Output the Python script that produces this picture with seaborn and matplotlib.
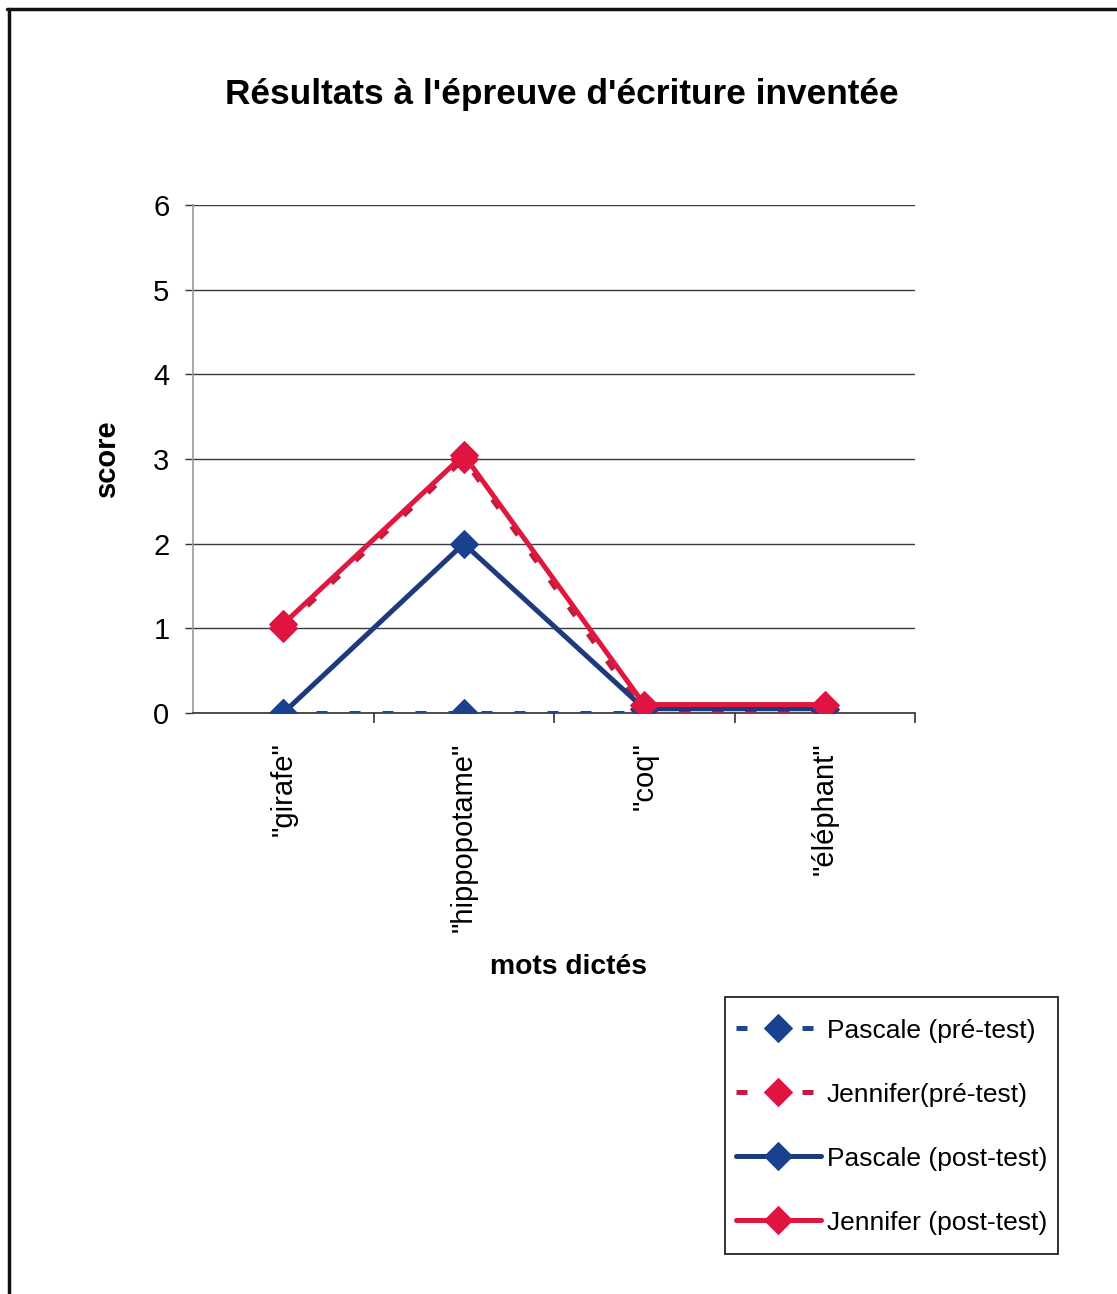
import numpy as np
import pandas as pd
import matplotlib
matplotlib.use("Agg")
import matplotlib.pyplot as plt
from matplotlib.lines import Line2D
from matplotlib.legend_handler import HandlerLine2D
from matplotlib.ticker import FixedLocator
import seaborn as sns

# Words dictated in the invented-spelling test
mots = ['"girafe"', '"hippopotame"', '"coq"', '"éléphant"']

# Scores per child and per session
pascale_pre = [0, 0, 0, 0]
jennifer_pre = [1, 3, 0, 0]
pascale_post = [0, 2, 0.05, 0.05]
jennifer_post = [1.05, 3.05, 0.1, 0.1]

series_labels = ["Pascale (pré-test)", "Jennifer(pré-test)",
                 "Pascale (post-test)", "Jennifer (post-test)"]
y_ticks = [0, 1, 2, 3, 4, 5, 6]


class CenteredLineHandler(HandlerLine2D):
    """Legend line handler that centres the sample on the label text."""

    def __init__(self, drop=0.38, **kwargs):
        super().__init__(**kwargs)
        self._drop = drop

    def create_artists(self, legend, orig_handle, xdescent, ydescent, width,
                       height, fontsize, trans):
        return super().create_artists(legend, orig_handle, xdescent, ydescent,
                                      width, height - self._drop * fontsize,
                                      fontsize, trans)


sns.set_theme(style="white")
plt.rcParams["font.family"] = ["Liberation Sans", "DejaVu Sans"]
plt.rcParams["text.color"] = "black"
plt.rcParams["axes.labelcolor"] = "black"
plt.rcParams["xtick.color"] = "black"
plt.rcParams["ytick.color"] = "black"

fig = plt.figure(figsize=(11.17, 12.94), dpi=100)
fig.patch.set_facecolor("white")
ax = fig.add_axes([193 / 1117, 1 - 713 / 1294, 722 / 1117, 508 / 1294])

x = np.arange(len(mots))
styles = [
    dict(values=pascale_pre, color="#1f4690", mfc="#1a4190", ls=(0, (2.2, 4.4)), lw=3.6),
    dict(values=jennifer_pre, color="#c01c40", mfc="#e01440", ls=(0, (2.2, 4.4)), lw=3.6),
    dict(values=pascale_post, color="#1c3a7c", mfc="#1a4190", ls="-", lw=3.6),
    dict(values=jennifer_post, color="#e0183f", mfc="#e01440", ls="-", lw=3.6),
]

for i, (st, lab) in enumerate(zip(styles, series_labels)):
    df = pd.DataFrame({"mot": x, "score": st["values"]})
    sns.lineplot(data=df, x="mot", y="score", ax=ax, sort=False,
                 color=st["color"], linewidth=st["lw"], linestyle=st["ls"],
                 marker="D", markersize=14, markerfacecolor=st["mfc"],
                 markeredgecolor=st["mfc"], label=lab, zorder=3 + i)

ax.set_xlim(-0.5, len(mots) - 0.5)
ax.set_ylim(0, 6)
ax.set_yticks(y_ticks)
ax.set_yticklabels([str(t) for t in y_ticks], fontsize=21)
ax.set_xticks(x)
ax.set_xticklabels(mots, rotation=90, fontsize=21, va="top", ha="center")
ax.xaxis.set_minor_locator(FixedLocator(np.arange(len(mots)) + 0.5))

ax.tick_params(axis="x", which="major", length=0, pad=21)
ax.tick_params(axis="x", which="minor", length=7, width=1.2, color="#333333",
               direction="out", bottom=True)
ax.tick_params(axis="y", which="major", length=6, width=1.0, color="#333333",
               direction="out", left=True, pad=11)

ax.grid(axis="y", color="#3a3a3a", linewidth=1.0)
ax.grid(axis="x", visible=False)
ax.set_axisbelow(True)
for side in ("top", "right"):
    ax.spines[side].set_visible(False)
ax.spines["left"].set_color("#9a9a9a")
ax.spines["left"].set_linewidth(1.2)
ax.spines["bottom"].set_color("#333333")
ax.spines["bottom"].set_linewidth(1.2)

ax.set_title("Résultats à l'épreuve d'écriture inventée", fontsize=25.4,
             fontweight="bold", x=(562 - 193) / 722, y=(713 - 104) / 508,
             pad=0, loc="center")
ax.set_ylabel("score", fontsize=21, fontweight="bold")
ax.yaxis.set_label_coords((121 - 193) / 722, (713 - 458) / 508)
ax.set_xlabel("mots dictés", fontsize=20.3, fontweight="bold")
ax.xaxis.set_label_coords((568 - 193) / 722, (713 - 954) / 508)

leg = ax.legend(loc="upper left", bbox_to_anchor=(725 / 1117, 1 - 997 / 1294),
                bbox_transform=fig.transFigure, frameon=True, fancybox=False,
                shadow=False, fontsize=19, handlelength=3.25, handleheight=2.2,
                handletextpad=0.2, labelspacing=0.75, borderpad=0.4,
                borderaxespad=0, numpoints=1, framealpha=1,
                handler_map={Line2D: CenteredLineHandler(drop=0.38)})
leg.get_frame().set_edgecolor("#222222")
leg.get_frame().set_linewidth(1.3)

# Frame lines along the top and left of the sheet
fig.add_artist(Line2D([7 / 1117, 1.0], [1 - 9 / 1294, 1 - 9 / 1294],
                      transform=fig.transFigure, color="#111111", linewidth=2.5))
fig.add_artist(Line2D([9 / 1117, 9 / 1117], [0.0, 1 - 9 / 1294],
                      transform=fig.transFigure, color="#111111", linewidth=2.5))

fig.savefig("out.png", dpi=100, facecolor="white")
